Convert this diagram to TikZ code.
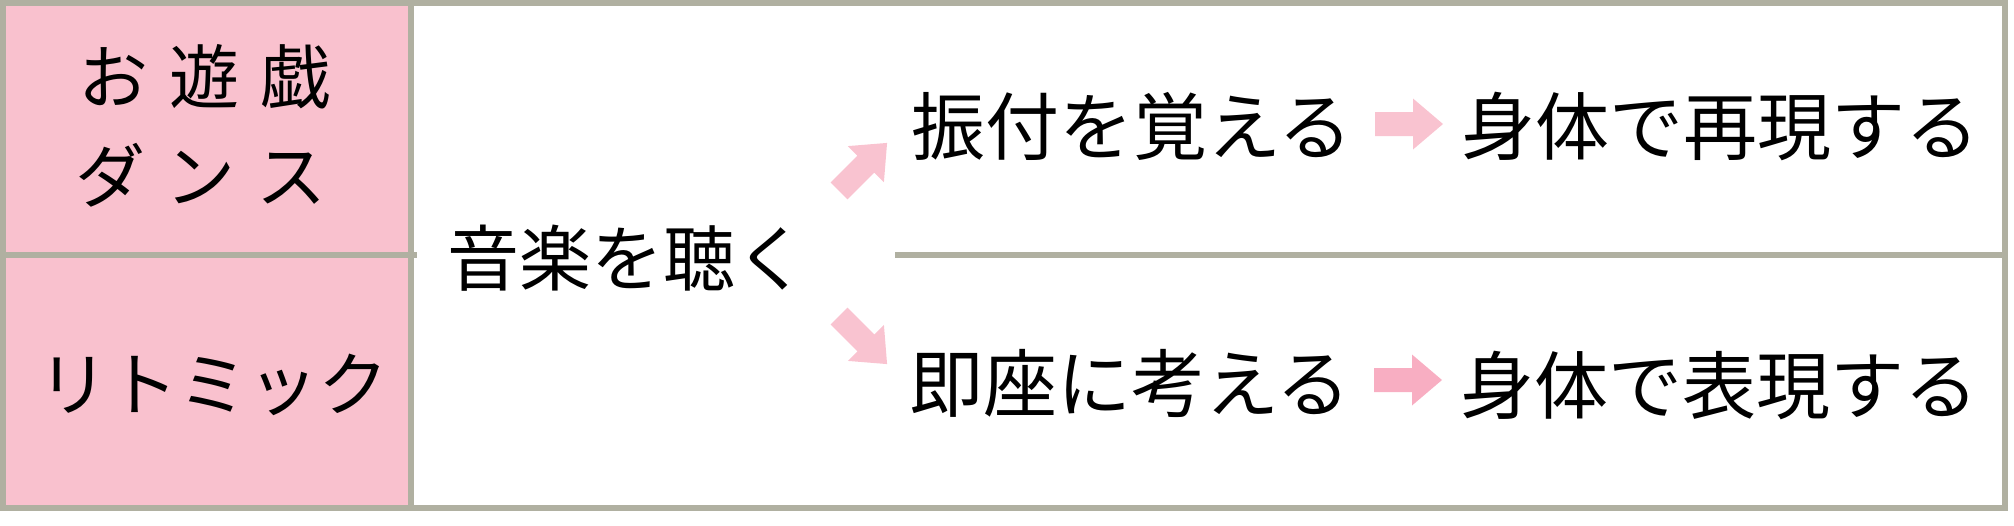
\documentclass[tikz,border=0pt]{standalone}
\usepackage{fontspec}
\setmainfont{Noto Sans CJK JP}
\definecolor{framegray}{RGB}{176,176,161}
\definecolor{cellpink}{RGB}{249,193,206}
\definecolor{arrowpink}{RGB}{249,195,208}
\definecolor{arrowrose}{RGB}{248,174,194}
\tikzset{
  jptext/.style={inner sep=0pt, font=\fontsize{#1}{1.2\dimexpr#1\relax}\selectfont},
  jptext/.default=35pt,
  framerule/.style={framegray, line width=3pt},
}
\newcommand{\gap}{\hspace{.3em}}
% fat arrow: colour, named start, angle
\newcommand{\fatarrow}[3]{%
  \fill [#1, shift={(#2)}, rotate=#3]
    (0,-12) -- (38,-12) -- (38,-25.5) -- (68,0) -- (38,25.5) -- (38,12) -- (0,12) -- cycle;}
\begin{document}
\begin{tikzpicture}[x=0.5pt,y=-0.5pt]
    \useasboundingbox (0,0) rectangle (2014,525);
    \fill [cellpink] (3,3) rectangle (411,508);
    \draw [framerule] (3,3) rectangle (2005,508);
    \draw [framerule] (411,3) -- (411,508);
    \draw [framerule] (3,255) -- (417,255);
    \draw [framerule] (895,255) -- (2005,255);
    % left column
    \node [jptext] (play) at (204,77) {お\gap 遊\gap 戯};
    \node [jptext] (dance) at (201,175) {ダ\gap ン\gap ス};
    \node [jptext] (rhythm) at (214,385) {リトミック};
    % middle
    \node [jptext=36pt] (listen) at (627,258) {音楽を聴く};
    \node [jptext=37pt] (learn) at (1132,126) {振付を覚える};
    \node [jptext=37pt] (repro) at (1720,126) {身体で再現する};
    \node [jptext=37pt] (think) at (1130,383) {即座に考える};
    \node [jptext=37pt] (expr) at (1719,385) {身体で表現する};
    % arrows
    \coordinate (uptail) at (839,191);
    \coordinate (downtail) at (839,316);
    \coordinate (learnarrow) at (1375,124);
    \coordinate (thinkarrow) at (1374,380);
    \fatarrow{arrowpink}{uptail}{45}
    \fatarrow{arrowpink}{downtail}{-45}
    \fatarrow{arrowpink}{learnarrow}{0}
    \fatarrow{arrowrose}{thinkarrow}{0}
\end{tikzpicture}
\end{document}
